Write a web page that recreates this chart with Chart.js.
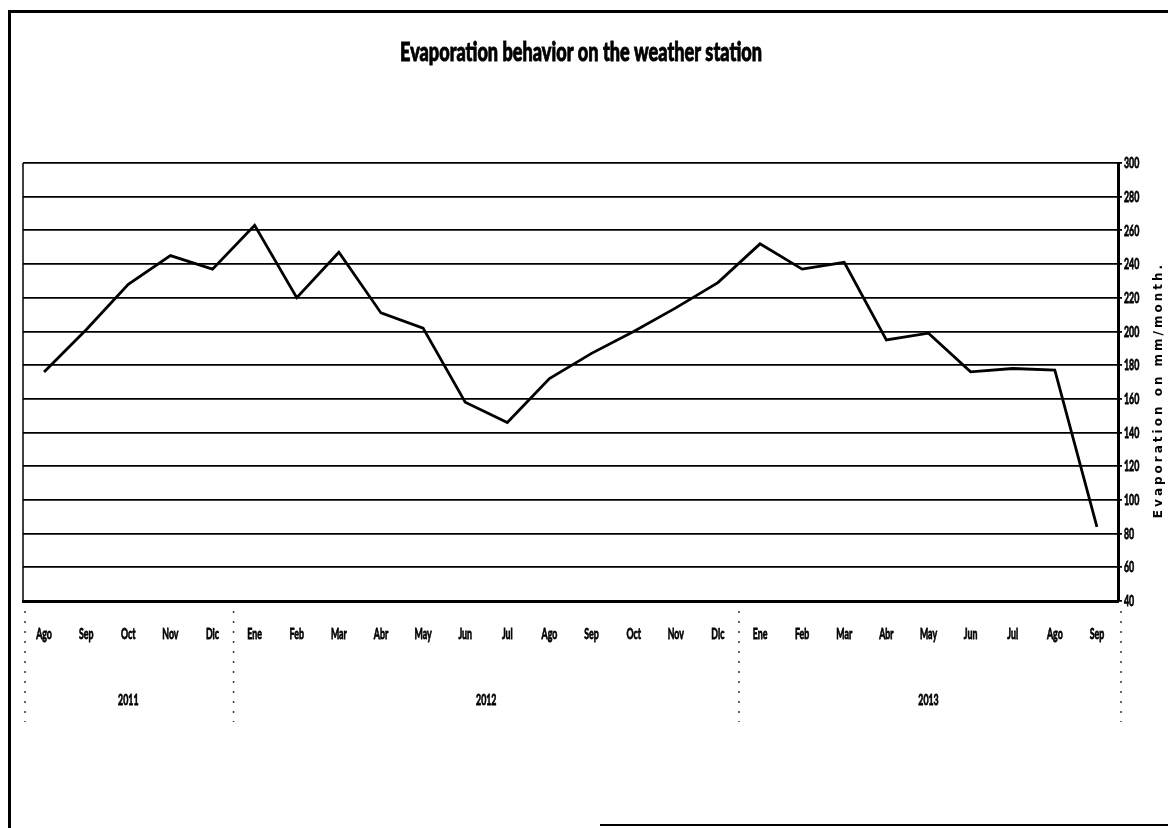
<!DOCTYPE html>
<html>
<head>
<meta charset="utf-8">
<title>Evaporation behavior on the weather station</title>
<script src="https://cdn.jsdelivr.net/npm/chart.js@4/dist/chart.umd.min.js"></script>
<style>
    html, body { margin: 0; padding: 0; background: #fff; }
    #wrap { position: relative; width: 1168px; height: 828px; overflow: hidden; }
    #frame {
        position: absolute; left: 8px; top: 10px; width: 1170px; height: 830px;
        border-left: 3px solid #000; border-top: 3px solid #000;
    }
    #base { position: absolute; left: 600px; top: 824px; width: 568px; border-top: 2px solid #000; }
    canvas { position: absolute; left: 0; top: 0; }
</style>
</head>
<body>
<div id="wrap">
    <div id="frame"></div>
    <div id="base"></div>
    <canvas id="evapChart" width="1168" height="828"></canvas>
</div>
<script>
// meses y años de la serie
const months = ['Ago', 'Sep', 'Oct', 'Nov', 'Dic',
    'Ene', 'Feb', 'Mar', 'Abr', 'May', 'Jun', 'Jul', 'Ago', 'Sep', 'Oct', 'Nov', 'Dic',
    'Ene', 'Feb', 'Mar', 'Abr', 'May', 'Jun', 'Jul', 'Ago', 'Sep'];
const years = ['2011', '2012', '2013'];
const yearMonths = [5, 12, 9];

// evaporación mensual (mm/mes)
const evaporation = [176, 201, 228, 245, 237,
    263, 220, 247, 211, 202, 158, 146, 172, 187, 200, 214, 229,
    252, 237, 241, 195, 199, 176, 178, 177, 84];

const yTicks = [40, 60, 80, 100, 120, 140, 160, 180, 200, 220, 240, 260, 280, 300];

// texto condensado y grueso: se comprime en horizontal
function narrowText(c, text, x, y, sx) {
    c.save();
    c.translate(x, y);
    c.scale(sx, 1);
    c.fillText(text, 0, 0);
    c.strokeText(text, 0, 0);
    c.restore();
}

// título, etiquetas, años y separadores
const extras = {
    id: 'extras',
    afterDraw(chart) {
        const c = chart.ctx;
        const x = chart.scales.x;
        const y = chart.scales.y;
        const area = chart.chartArea;
        c.save();
        c.fillStyle = '#000';
        c.strokeStyle = '#000';
        c.textBaseline = 'middle';

        // título
        c.textAlign = 'center';
        c.lineWidth = 0.9;
        c.font = '900 26px Lato';
        const title = 'Evaporation behavior on the weather station';
        narrowText(c, title, 581, 53, 362 / c.measureText(title).width);

        // meses
        c.lineWidth = 0.8;
        c.font = 'bold 16px Lato';
        months.forEach((m, i) => narrowText(c, m, x.getPixelForValue(i), 634, 0.55));

        // valores del eje y
        c.textAlign = 'left';
        yTicks.forEach(v => narrowText(c, String(v), area.right + 6, y.getPixelForValue(v), 0.55));

        // años
        c.textAlign = 'center';
        let start = 0;
        const bounds = [area.left + 2];
        years.forEach((yr, i) => {
            const end = start + yearMonths[i] - 1;
            const cx = (x.getPixelForValue(start) + x.getPixelForValue(end)) / 2;
            narrowText(c, yr, cx, 700, 0.55);
            if (end < months.length - 1) {
                bounds.push((x.getPixelForValue(end) + x.getPixelForValue(end + 1)) / 2);
            }
            start = end + 1;
        });
        bounds.push(area.right + 3);

        // separadores punteados
        c.strokeStyle = '#333';
        c.lineWidth = 1.5;
        c.setLineDash([2, 8]);
        bounds.forEach(bx => {
            c.beginPath();
            c.moveTo(bx, area.bottom + 10);
            c.lineTo(bx, 722);
            c.stroke();
        });
        c.setLineDash([]);

        // borde izquierdo del área
        c.strokeStyle = '#000';
        c.lineWidth = 1.5;
        c.beginPath();
        c.moveTo(area.left, area.top);
        c.lineTo(area.left, area.bottom);
        c.stroke();

        // título del eje y
        c.translate(1159, 390);
        c.rotate(-Math.PI / 2);
        c.font = 'bold 12px "DejaVu Sans"';
        c.letterSpacing = '3px';
        c.fillText('Evaporation on mm/month.', 0, 0);
        c.restore();
    }
};

const ctx = document.getElementById('evapChart').getContext('2d');
const evapChart = new Chart(ctx, {
    type: 'line',
    data: {
        labels: months,
        datasets: [{
            label: 'Evaporation',
            data: evaporation,
            borderColor: '#000',
            borderWidth: 2.8,
            pointRadius: 0,
            tension: 0,
        }],
    },
    options: {
        responsive: false,
        animation: false,
        layout: { padding: { left: 23, top: 163, right: 0, bottom: 0 } },
        plugins: {
            legend: { display: false },
            title: { display: false },
            tooltip: { enabled: false },
        },
        scales: {
            x: {
                offset: true,
                grid: { display: false, drawTicks: false },
                border: { color: '#000', width: 3 },
                ticks: { display: false, autoSkip: false },
                afterFit(scale) { scale.height = 227; },
            },
            y: {
                position: 'right',
                min: 40,
                max: 300,
                afterBuildTicks(scale) { scale.ticks = yTicks.map(v => ({ value: v })); },
                grid: { color: '#000', lineWidth: 1.8, tickLength: 4 },
                border: { color: '#000', width: 3 },
                ticks: { display: false },
                afterFit(scale) { scale.width = 50; },
            },
        },
    },
    plugins: [extras],
});
</script>
</body>
</html>
